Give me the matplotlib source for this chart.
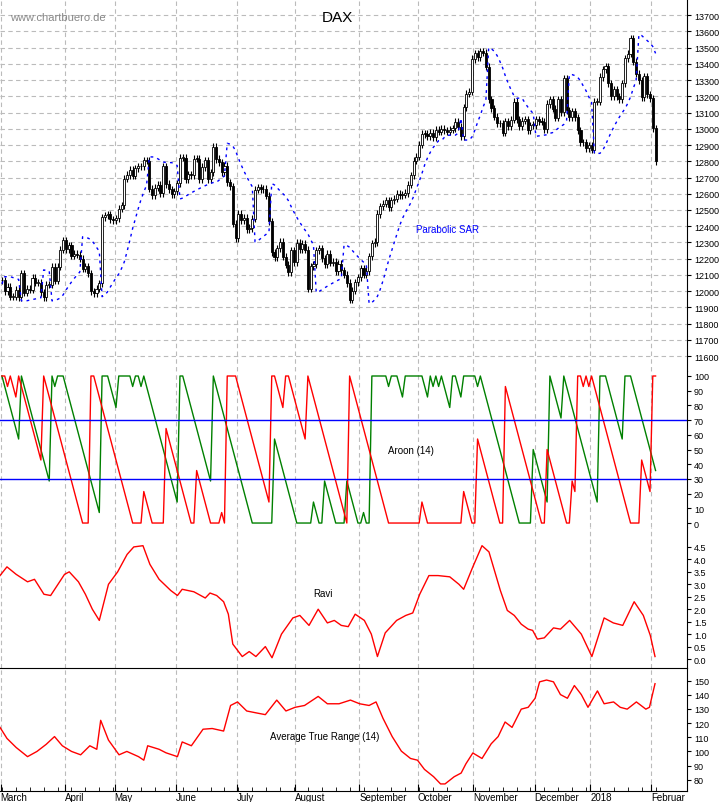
import numpy as np
import matplotlib
matplotlib.use('Agg')
import matplotlib.pyplot as plt

plt.rcParams['font.family'] = ['Liberation Sans', 'DejaVu Sans']

# daily DAX closes per month
mar = [12067,11999,12028,11967,11967,12010,11963,12109,11990,12013,12009,12083,12052,12052,11994,11962,12039,12040,12149,12064,12150,12256,12313]
apr = [12257,12282,12218,12230,12225,12200,12139,12154,12109,12000,11988,12016,12048,12455,12467,12473,12443,12438]
may = [12450,12507,12528,12694,12716,12749,12711,12757,12770,12770,12805,12804,12631,12590,12638,12656,12602,12770,12660,12628,12598,12615]
jun = [12664,12822,12823,12690,12720,12713,12816,12815,12690,12765,12805,12691,12733,12889,12814,12794,12733,12771,12671,12647,12416,12325]
jul = [12475,12437,12453,12381,12389,12445,12626,12641,12627,12631,12587,12430,12240,12209,12265,12305,12212,12162,12118,12251,12180]
aug = [12297,12257,12292,12255,12014,12153,12165,12251,12263,12203,12166,12229,12174,12180,12123,12167,12128,12100,12050,11946,12002,12055,12086]
sep = [12142,12102,12124,12214,12296,12303,12475,12524,12540,12559,12518,12561,12569,12600,12592,12595,12605,12657,12714,12804,12829]
oct_ = [12902,12970,12968,12955,12976,12949,12995,12982,13001,12991,12983,12995,13003,13043,13013,12953,13134,13217,13229,13430]
nov = [13465,13440,13478,13469,13382,13182,13127,13074,13034,13033,12976,13047,13016,13057,13167,13059,13015,13050,13060,12993,13023,13024]
dec = [13058,13048,13045,12999,13153,13183,13125,13068,13183,13104,13312,13115,13072,13109,13070,12992,12917,12918,12880,12900]
jan = [12871,13167,13167,13319,13367,13385,13281,13202,13245,13201,13183,13282,13434,13463,13559,13414,13340,13298,13196,13324,13212,13189]
feb = [13004,12800]
months = [mar, apr, may, jun, jul, aug, sep, oct_, nov, dec, jan, feb]
month_labels = ['March','April','May','June','July','August','September','October','November','December','2018','Februar']

wick = 22

# Ravi and ATR read at sampled trading days
ravi_day = [-0.7,1.8,5.1,9.2,11.7,15.1,17.5,22.5,24.2,27.5,30,32.5,35,38.3,41.6,45,47.4,50.7,53.2,56.5,
            60.7,63.1,64.8,69,73.1,74.8,77.2,79.7,81.4,83,86.4,88.9,91.3,94.7,97.1,100.5,104.6,107.1,110.4,113.7,
            117,119.5,122,124.5,127,130.3,132.8,135,137.8,141.9,145.2,147.7,150.2,153.5,156.8,161,164.3,166,169.3,172.6,
            175.1,179.2,181.7,184.2,186.7,189.2,190.8,192.5,195,198.3,200.8,204.1,208.3,212.1,216.5,219.8,223.2,227.3,230.6,233.1,234.8]
ravi_val = [3.35,3.7,3.4,3.1,3.2,2.6,2.55,3.4,3.5,3.1,2.6,2.0,1.55,3.0,3.5,4.2,4.5,4.55,3.8,3.2,
            2.75,2.55,2.8,2.7,2.45,2.65,2.55,2.3,1.8,0.6,0.1,0.3,0.1,0.5,0.05,1.0,1.65,1.75,1.35,2.0,
            1.45,1.55,1.35,1.3,1.8,1.55,1.0,0.1,1.05,1.55,1.75,1.85,2.6,3.35,3.35,3.3,3.0,2.8,3.7,4.55,
            4.3,2.75,1.95,1.75,1.4,1.2,1.15,0.8,0.85,1.25,1.2,1.55,1.0,0.1,1.65,1.45,1.35,2.3,1.75,0.95,0.1]
atr_day = [-0.7,1.8,5.1,9.2,12.6,15.9,18.9,21.7,25,28.3,
           31.6,34.1,35.5,38.3,42.1,44.9,49.1,51,52.4,56.5,
           59,63.1,64.8,68.1,72.3,75.6,79.7,82.2,84.7,88,
           91.3,94.7,98.8,102.1,105.4,108.8,113.7,117,121.2,125.3,
           128.6,132,134.5,137,140.3,143.6,146.9,149.4,151.9,155.2,
           157.7,159.3,162.6,165.1,166.8,169.3,172.6,175.9,178.4,180.9,
           183.4,186.7,189.2,191.7,193.3,195.8,198.3,200.8,203.3,205.8,
           208.3,210.7,214.1,216.5,219.9,222.3,224.8,228.1,231.5,232.8,234.8]
atr_val = [117,109.2,102.8,96.3,100,105,110.5,104,100,97.6,
           104,101.5,122,108,97.6,100,96.3,93.8,104,101.5,
           99,96.3,106.7,104,115.7,116.2,114.4,132.5,135,128.6,
           127.3,126,136.3,128.6,131.2,132.5,138.9,133.7,133.7,136.3,
           133.7,132.5,135,123.4,110.5,100.2,95,93.8,87.3,82.1,
           77,77,82.1,84.7,91.2,98.9,95,105.4,110.5,120.8,
           117,129.9,131.2,137.6,149.2,150.5,149.2,140.2,137.6,146.6,
           140.2,131.2,142.8,133.7,135,131.2,129.9,135,129.9,131.2,147.9]

close = np.array([c for m in months for c in m], dtype=float)
n = len(close)
opn = np.r_[close[0], close[:-1]]
high = np.maximum(opn, close) + wick
low = np.minimum(opn, close) - wick
idx = np.arange(n)
starts = np.cumsum([0] + [len(m) for m in months[:-1]])


def parabolic_sar(h, l, step=0.02, amax=0.2):
    sar = np.zeros(len(h))
    up = True
    af = step
    ep = h[0]
    sar[0] = l[0]
    for i in range(1, len(h)):
        s = sar[i-1] + af * (ep - sar[i-1])
        if up:
            s = min(s, l[i-1], l[max(i-2, 0)])
            if l[i] < s:
                up, s, ep, af = False, ep, l[i], step
            elif h[i] > ep:
                ep = h[i]; af = min(af + step, amax)
        else:
            s = max(s, h[i-1], h[max(i-2, 0)])
            if h[i] > s:
                up, s, ep, af = True, ep, h[i], step
            elif l[i] < ep:
                ep = l[i]; af = min(af + step, amax)
        sar[i] = s
    return sar


def aroon(h, l, p=14):
    upv, dnv = [], []
    for i in range(len(h)):
        a = max(0, i - p)
        wh, wl = h[a:i+1], l[a:i+1]
        upv.append((p - (len(wh) - 1 - np.argmax(wh))) / p * 100)
        dnv.append((p - (len(wl) - 1 - np.argmin(wl))) / p * 100)
    return np.array(upv), np.array(dnv)


sar = parabolic_sar(high, low)
ar_up, ar_dn = aroon(high, low)

fig = plt.figure(figsize=(7.23, 8.03), dpi=100)
H = 803.0
W = 723.0
right = 687 / W


def mkax(top, bot):
    return fig.add_axes([0, 1 - bot / H, right, (bot - top) / H])


ax1 = mkax(0, 372)
ax2 = mkax(372, 528)
ax3 = mkax(528, 669)
ax4 = mkax(669, 792)
xl = (-0.7, 246.3)
grid_kw = dict(color='#bbbbbb', linestyle=(0, (4, 3)), linewidth=0.8)

for ax in (ax1, ax2, ax3, ax4):
    ax.set_xlim(*xl)
    for s in ('left', 'top', 'bottom'):
        ax.spines[s].set_visible(False)
    ax.yaxis.tick_right()
    ax.tick_params(axis='y', labelsize=6.5, length=3, direction='out', pad=2)
    ax.set_xticks(starts)
    ax.tick_params(axis='x', length=0, labelbottom=False)
    for s in starts:
        ax.axvline(s - 0.5, zorder=0, **grid_kw)

# price candles
for i in idx:
    ax1.vlines(i, low[i], high[i], color='black', linewidth=0.8)
    b0, b1 = sorted((opn[i], close[i]))
    fc = 'white' if close[i] >= opn[i] else 'black'
    ax1.bar(i, max(b1 - b0, 4), bottom=b0, width=0.75, facecolor=fc, edgecolor='black', linewidth=0.6, zorder=3)
ax1.plot(idx, sar, color='blue', linestyle=(0, (2, 3)), linewidth=1, zorder=4)
ax1.set_ylim(11508, 13800)
ax1.set_yticks(np.arange(11600, 13701, 100))
for v in np.arange(11600, 13701, 100):
    ax1.axhline(v, zorder=0, **grid_kw)
ax1.text(3, 13690, 'www.chartbuero.de', color='#888888', fontsize=8, va='center')
ax1.text(120.5, 13690, 'DAX', fontsize=11, ha='center', va='center')
ax1.text(149, 12380, 'Parabolic SAR', color='blue', fontsize=7, va='center')

# aroon
ax2.plot(idx, ar_up, color='green', linewidth=1)
ax2.plot(idx, ar_dn, color='red', linewidth=1)
ax2.axhline(70, color='blue', linewidth=1)
ax2.axhline(30, color='blue', linewidth=1)
ax2.set_ylim(-2.7, 103.4)
ax2.set_yticks(np.arange(0, 101, 10))
ax2.text(147, 50, 'Aroon (14)', fontsize=7, ha='center', va='center')

# ravi
ax3.plot(ravi_day, ravi_val, color='red', linewidth=1)
ax3.set_ylim(-0.36, 5.3)
ax3.set_yticks(np.arange(0, 4.51, 0.5))
ax3.set_yticklabels([f'{v:.1f}' for v in np.arange(0, 4.51, 0.5)])
ax3.text(115.5, 2.65, 'Ravi', fontsize=7, ha='center', va='center')

# atr
ax4.plot(atr_day, atr_val, color='red', linewidth=1)
ax4.set_ylim(72, 159)
ax4.set_yticks(np.arange(80, 151, 10))
ax4.spines['top'].set_visible(True)
ax4.spines['top'].set_color('black')
ax4.text(116, 111, 'Average True Range (14)', fontsize=7, ha='center', va='center')
ax4.spines['bottom'].set_visible(True)
ax4.tick_params(axis='x', length=5, direction='in', labelbottom=True, labelsize=7, pad=1)
ax4.set_xticks(starts - 0.5)
ax4.set_xticklabels(month_labels, ha='left')
ax4.set_xticks(np.arange(0, n, 5), minor=True)
ax4.tick_params(axis='x', which='minor', length=3, direction='in')

fig.savefig('out.png', dpi=100)
